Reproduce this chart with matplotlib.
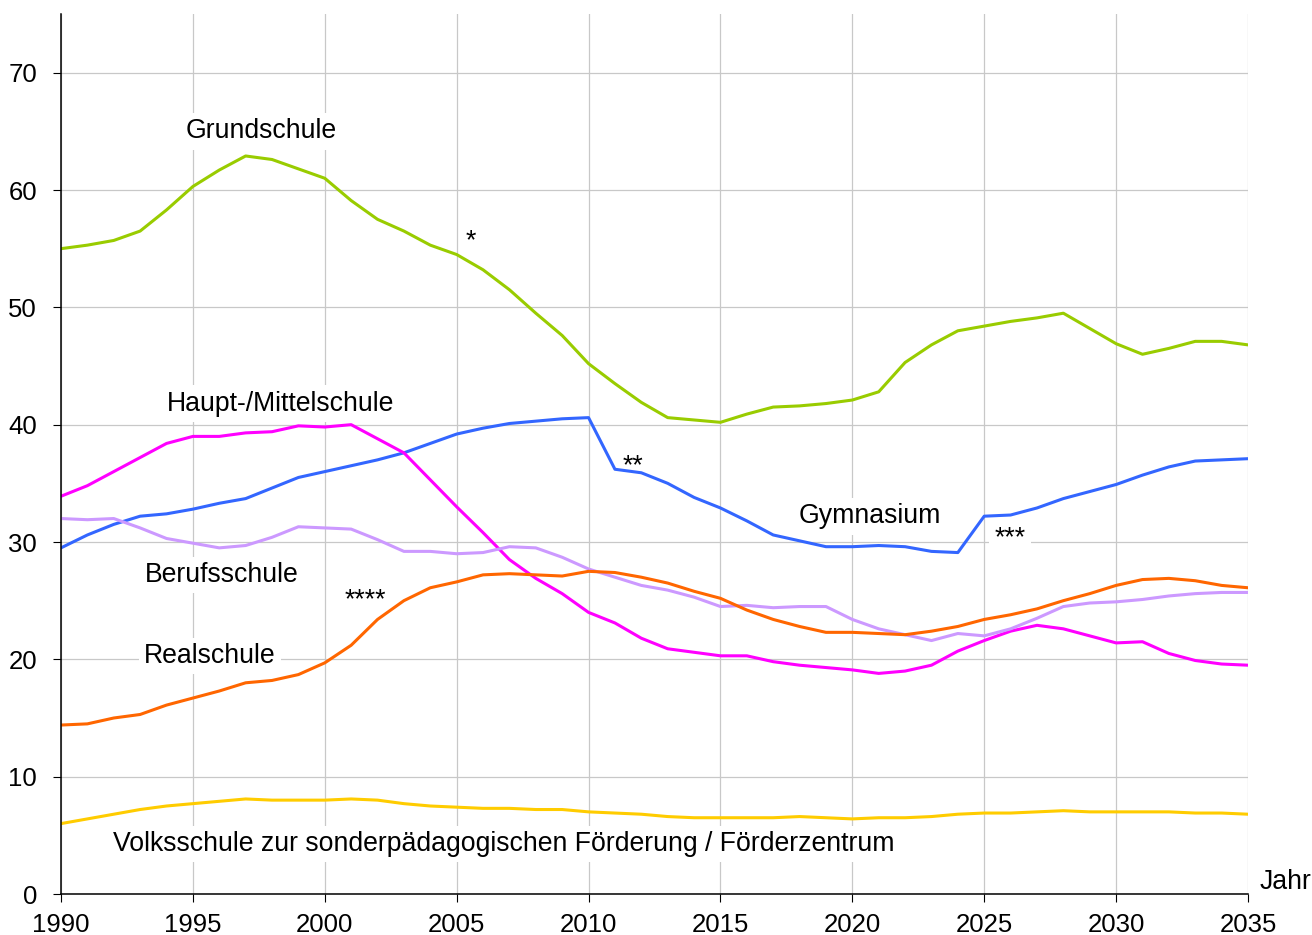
import matplotlib
matplotlib.use("Agg")
import matplotlib.pyplot as plt
import numpy as np

plt.rcParams['font.family'] = ['Liberation Sans', 'DejaVu Sans']

years = list(range(1990, 2036))

grundschule = [55.0, 55.3, 55.7, 56.5, 58.3, 60.3, 61.7, 62.9, 62.6, 61.8,
               61.0, 59.1, 57.5, 56.5, 55.3, 54.5, 53.2, 51.5, 49.5, 47.6,
               45.2, 43.5, 41.9, 40.6, 40.4, 40.2, 40.9, 41.5, 41.6, 41.8,
               42.1, 42.8, 45.3, 46.8, 48.0, 48.4, 48.8, 49.1, 49.5, 48.2,
               46.9, 46.0, 46.5, 47.1, 47.1, 46.8]

gymnasium = [29.5, 30.6, 31.5, 32.2, 32.4, 32.8, 33.3, 33.7, 34.6, 35.5,
             36.0, 36.5, 37.0, 37.6, 38.4, 39.2, 39.7, 40.1, 40.3, 40.5,
             40.6, 36.2, 35.9, 35.0, 33.8, 32.9, 31.8, 30.6, 30.1, 29.6,
             29.6, 29.7, 29.6, 29.2, 29.1, 32.2, 32.3, 32.9, 33.7, 34.3,
             34.9, 35.7, 36.4, 36.9, 37.0, 37.1]

hauptschule = [33.9, 34.8, 36.0, 37.2, 38.4, 39.0, 39.0, 39.3, 39.4, 39.9,
               39.8, 40.0, 38.8, 37.6, 35.3, 33.0, 30.8, 28.5, 26.9, 25.6,
               24.0, 23.1, 21.8, 20.9, 20.6, 20.3, 20.3, 19.8, 19.5, 19.3,
               19.1, 18.8, 19.0, 19.5, 20.7, 21.6, 22.4, 22.9, 22.6, 22.0,
               21.4, 21.5, 20.5, 19.9, 19.6, 19.5]

berufsschule = [32.0, 31.9, 32.0, 31.2, 30.3, 29.9, 29.5, 29.7, 30.4, 31.3,
                31.2, 31.1, 30.2, 29.2, 29.2, 29.0, 29.1, 29.6, 29.5, 28.7,
                27.7, 27.0, 26.3, 25.9, 25.3, 24.5, 24.6, 24.4, 24.5, 24.5,
                23.4, 22.6, 22.1, 21.6, 22.2, 22.0, 22.6, 23.5, 24.5, 24.8,
                24.9, 25.1, 25.4, 25.6, 25.7, 25.7]

realschule = [14.4, 14.5, 15.0, 15.3, 16.1, 16.7, 17.3, 18.0, 18.2, 18.7,
              19.7, 21.2, 23.4, 25.0, 26.1, 26.6, 27.2, 27.3, 27.2, 27.1,
              27.5, 27.4, 27.0, 26.5, 25.8, 25.2, 24.2, 23.4, 22.8, 22.3,
              22.3, 22.2, 22.1, 22.4, 22.8, 23.4, 23.8, 24.3, 25.0, 25.6,
              26.3, 26.8, 26.9, 26.7, 26.3, 26.1]

volksschule = [6.0, 6.4, 6.8, 7.2, 7.5, 7.7, 7.9, 8.1, 8.0, 8.0,
               8.0, 8.1, 8.0, 7.7, 7.5, 7.4, 7.3, 7.3, 7.2, 7.2,
               7.0, 6.9, 6.8, 6.6, 6.5, 6.5, 6.5, 6.5, 6.6, 6.5,
               6.4, 6.5, 6.5, 6.6, 6.8, 6.9, 6.9, 7.0, 7.1, 7.0,
               7.0, 7.0, 7.0, 6.9, 6.9, 6.8]

series = [
    (grundschule, '#99cc00'),
    (gymnasium, '#3366ff'),
    (hauptschule, '#ff00ff'),
    (berufsschule, '#cc99ff'),
    (realschule, '#ff6600'),
    (volksschule, '#ffcc00'),
]

# label texts with (year, value) anchor (left/baseline)
labels = [
    ("Grundschule", 1994.73, 64.4),
    ("*", 2005.35, 55.0),
    ("Haupt-/Mittelschule", 1994.0, 41.2),
    ("**", 2011.28, 35.9),
    ("Gymnasium", 2017.98, 31.6),
    ("***", 2025.4, 29.7),
    ("Berufsschule", 1993.18, 26.6),
    ("****", 2000.76, 24.4),
    ("Realschule", 1993.15, 19.7),
    ("Volksschule zur sonderpädagogischen Förderung / Förderzentrum", 1991.97, 3.66),
]

xticks = list(range(1990, 2036, 5))
yticks = list(range(0, 71, 10))

fig = plt.figure(figsize=(13.12, 9.35), dpi=100)
ax = fig.add_axes([61 / 1312, 1 - 894 / 935, (1248 - 61) / 1312, (894 - 14) / 935])

for vals, col in series:
    ax.plot(years, vals, color=col, lw=2.2, zorder=3, solid_capstyle='round',
            solid_joinstyle='round')

for txt, x, y in labels:
    ax.text(x, y, txt, ha='left', va='baseline', fontsize=19.2, color='black', zorder=2.5,
            bbox=dict(boxstyle='square,pad=0.2', fc='white', ec='none'))

ax.text(2035.45, 0.43, "Jahr", ha='left', va='baseline', fontsize=19.2, clip_on=False)

ax.set_xlim(1990, 2035)
ax.set_ylim(0, 75)
ax.set_xticks(xticks)
ax.set_yticks(yticks)
ax.set_xticklabels([str(t) for t in xticks])
ax.set_yticklabels([str(t) for t in yticks])
ax.tick_params(axis='both', direction='out', length=5.8, width=0.8, labelsize=18.5, colors='black')
ax.tick_params(axis='y', pad=11.5)
ax.tick_params(axis='x', pad=8.2)

ax.grid(True, color='#c8c8c8', lw=0.9, zorder=1)
ax.set_axisbelow(True)
for s in ['top', 'right']:
    ax.spines[s].set_visible(False)
for s in ['left', 'bottom']:
    ax.spines[s].set_linewidth(1.1)
    ax.spines[s].set_color('black')
    ax.spines[s].set_zorder(4)

fig.savefig('out.png', dpi=100)
